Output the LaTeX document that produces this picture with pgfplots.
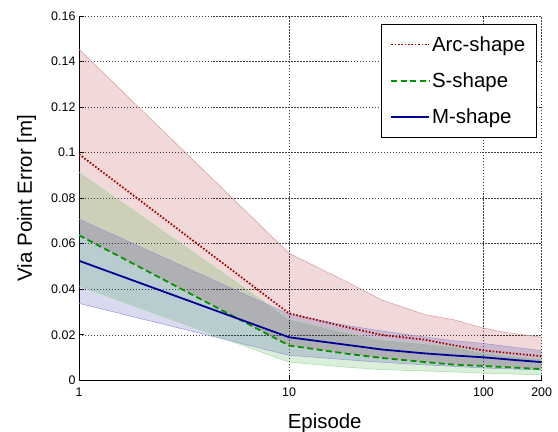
\documentclass[border=0pt]{standalone}
\usepackage{fontspec}
\setmainfont{Liberation Sans}
\usepackage{pgfplots}
\pgfplotsset{compat=1.18}
\definecolor{arcred}{RGB}{160,0,0}
\definecolor{sgreen}{RGB}{0,150,0}
\definecolor{mblue}{RGB}{0,0,150}
\begin{document}
\begin{tikzpicture}
\begin{axis}[
  name=ax,
  scale only axis,
  width=462.7bp, height=364.3bp,
  % episode axis: log-like, as in the reference
  x coord trafo/.code={\pgfmathparse{log10(#1-0.2)}},
  x coord inv trafo/.code={\pgfmathparse{10^(#1)+0.2}},
  xmin=1, xmax=200, ymin=0, ymax=0.16,
  xtick={1,10,100,200}, xticklabels={1,10,100,200},
  ytick={0,0.02,0.04,0.06,0.08,0.1,0.12,0.14,0.16},
  yticklabels={0,0.02,0.04,0.06,0.08,0.1,0.12,0.14,0.16},
  scaled y ticks=false,
  axis lines*=left,
  axis line style={line width=1pt, black},
  grid=major,
  major grid style={black!75, line width=0.5pt, dash pattern=on 1.5pt off 1.5pt},
  tick style={black, line width=0.6pt},
  major tick length=5bp,
  tick align=inside,
  ticklabel style={font=\fontsize{12.5}{14}\selectfont},
  xticklabel style={yshift=-4bp},
  xlabel={Episode}, ylabel={Via Point Error [m]},
  label style={font=\fontsize{20.5}{24}\selectfont},
  xlabel style={at={(axis description cs:0.531,-0.131)}, anchor=base},
  ylabel style={at={(axis description cs:-0.102,0.5)}, anchor=base},
  legend style={at={(axis description cs:0.9886,0.978)}, anchor=north east,
    draw=black, line width=0.6pt, fill=white,
    font=\fontsize{20.5}{24}\selectfont, inner xsep=9bp, inner ysep=10bp,
    row sep=16bp},
  legend cell align=left,
  legend image code/.code={\draw[#1] (0bp,0bp) -- (38bp,0bp);},
]
% bands
\addplot[draw=none, fill=arcred, fill opacity=0.15, forget plot] coordinates {
  (1,0.1454) (10,0.0558) (20,0.0430) (30,0.0352) (50,0.0288) (70,0.0266) (100,0.0229) (130,0.0210) (200,0.0189)
  (200,0.0052) (150,0.0058) (100,0.0066) (70,0.0072) (50,0.0082) (30,0.0100) (20,0.0118) (10,0.0156) (1,0.0640)} -- cycle;
\addplot[draw=none, fill=sgreen, fill opacity=0.15, forget plot] coordinates {
  (1,0.0913) (10,0.0268) (20,0.0207) (30,0.0177) (50,0.0160) (70,0.0147) (100,0.0120) (150,0.0103) (200,0.0092)
  (200,0.0023) (150,0.0027) (100,0.0031) (70,0.0037) (50,0.0041) (30,0.0047) (20,0.0057) (10,0.0080) (1,0.0414)} -- cycle;
\addplot[draw=none, fill=mblue, fill opacity=0.15, forget plot] coordinates {
  (1,0.0708) (10,0.0290) (20,0.0240) (30,0.0216) (50,0.0190) (70,0.0174) (100,0.0162) (150,0.0143) (200,0.0130)
  (200,0.0045) (150,0.0049) (100,0.0054) (70,0.0061) (50,0.0068) (30,0.0079) (20,0.0090) (10,0.0110) (1,0.0338)} -- cycle;
% band edges
\addplot[arcred!40, line width=0.5pt, forget plot] coordinates {
  (1,0.1454) (10,0.0558) (20,0.0430) (30,0.0352) (50,0.0288) (70,0.0266) (100,0.0229) (130,0.0210) (200,0.0189)};
\addplot[arcred!40, line width=0.5pt, forget plot] coordinates {
  (1,0.0640) (10,0.0156) (20,0.0118) (30,0.0100) (50,0.0082) (70,0.0072) (100,0.0066) (150,0.0058) (200,0.0052)};
\addplot[sgreen!35, line width=0.5pt, forget plot] coordinates {
  (1,0.0913) (10,0.0268) (20,0.0207) (30,0.0177) (50,0.0160) (70,0.0147) (100,0.0120) (150,0.0103) (200,0.0092)};
\addplot[sgreen!35, line width=0.5pt, forget plot] coordinates {
  (1,0.0414) (10,0.0080) (20,0.0057) (30,0.0047) (50,0.0041) (70,0.0037) (100,0.0031) (150,0.0027) (200,0.0023)};
\addplot[mblue!40, line width=0.5pt, forget plot] coordinates {
  (1,0.0708) (10,0.0290) (20,0.0240) (30,0.0216) (50,0.0190) (70,0.0174) (100,0.0162) (150,0.0143) (200,0.0130)};
\addplot[mblue!40, line width=0.5pt, forget plot] coordinates {
  (1,0.0338) (10,0.0110) (20,0.0090) (30,0.0079) (50,0.0068) (70,0.0061) (100,0.0054) (150,0.0049) (200,0.0045)};
% means
\addplot[arcred, line width=1.8pt, dash pattern=on 1.6pt off 1.8pt] coordinates {
  (1,0.0993) (10,0.0294) (20,0.0232) (30,0.0199) (50,0.0178) (70,0.0154) (100,0.0131) (150,0.0116) (200,0.0106)};
\addplot[sgreen, line width=1.8pt, dash pattern=on 6pt off 3.5pt] coordinates {
  (1,0.0637) (10,0.0153) (20,0.0116) (30,0.0098) (50,0.0080) (70,0.0069) (100,0.0063) (150,0.0055) (200,0.0049)};
\addplot[mblue, line width=1.8pt] coordinates {
  (1,0.0525) (10,0.0189) (20,0.0155) (30,0.0135) (50,0.0118) (70,0.0109) (100,0.0101) (150,0.0088) (200,0.0080)};
\legend{Arc-shape,S-shape,M-shape}
\end{axis}
\pgfresetboundingbox
\path[use as bounding box] ([xshift=-79bp,yshift=-51.7bp]ax.south west) rectangle ([xshift=16.3bp,yshift=16bp]ax.north east);
\end{tikzpicture}
\end{document}
